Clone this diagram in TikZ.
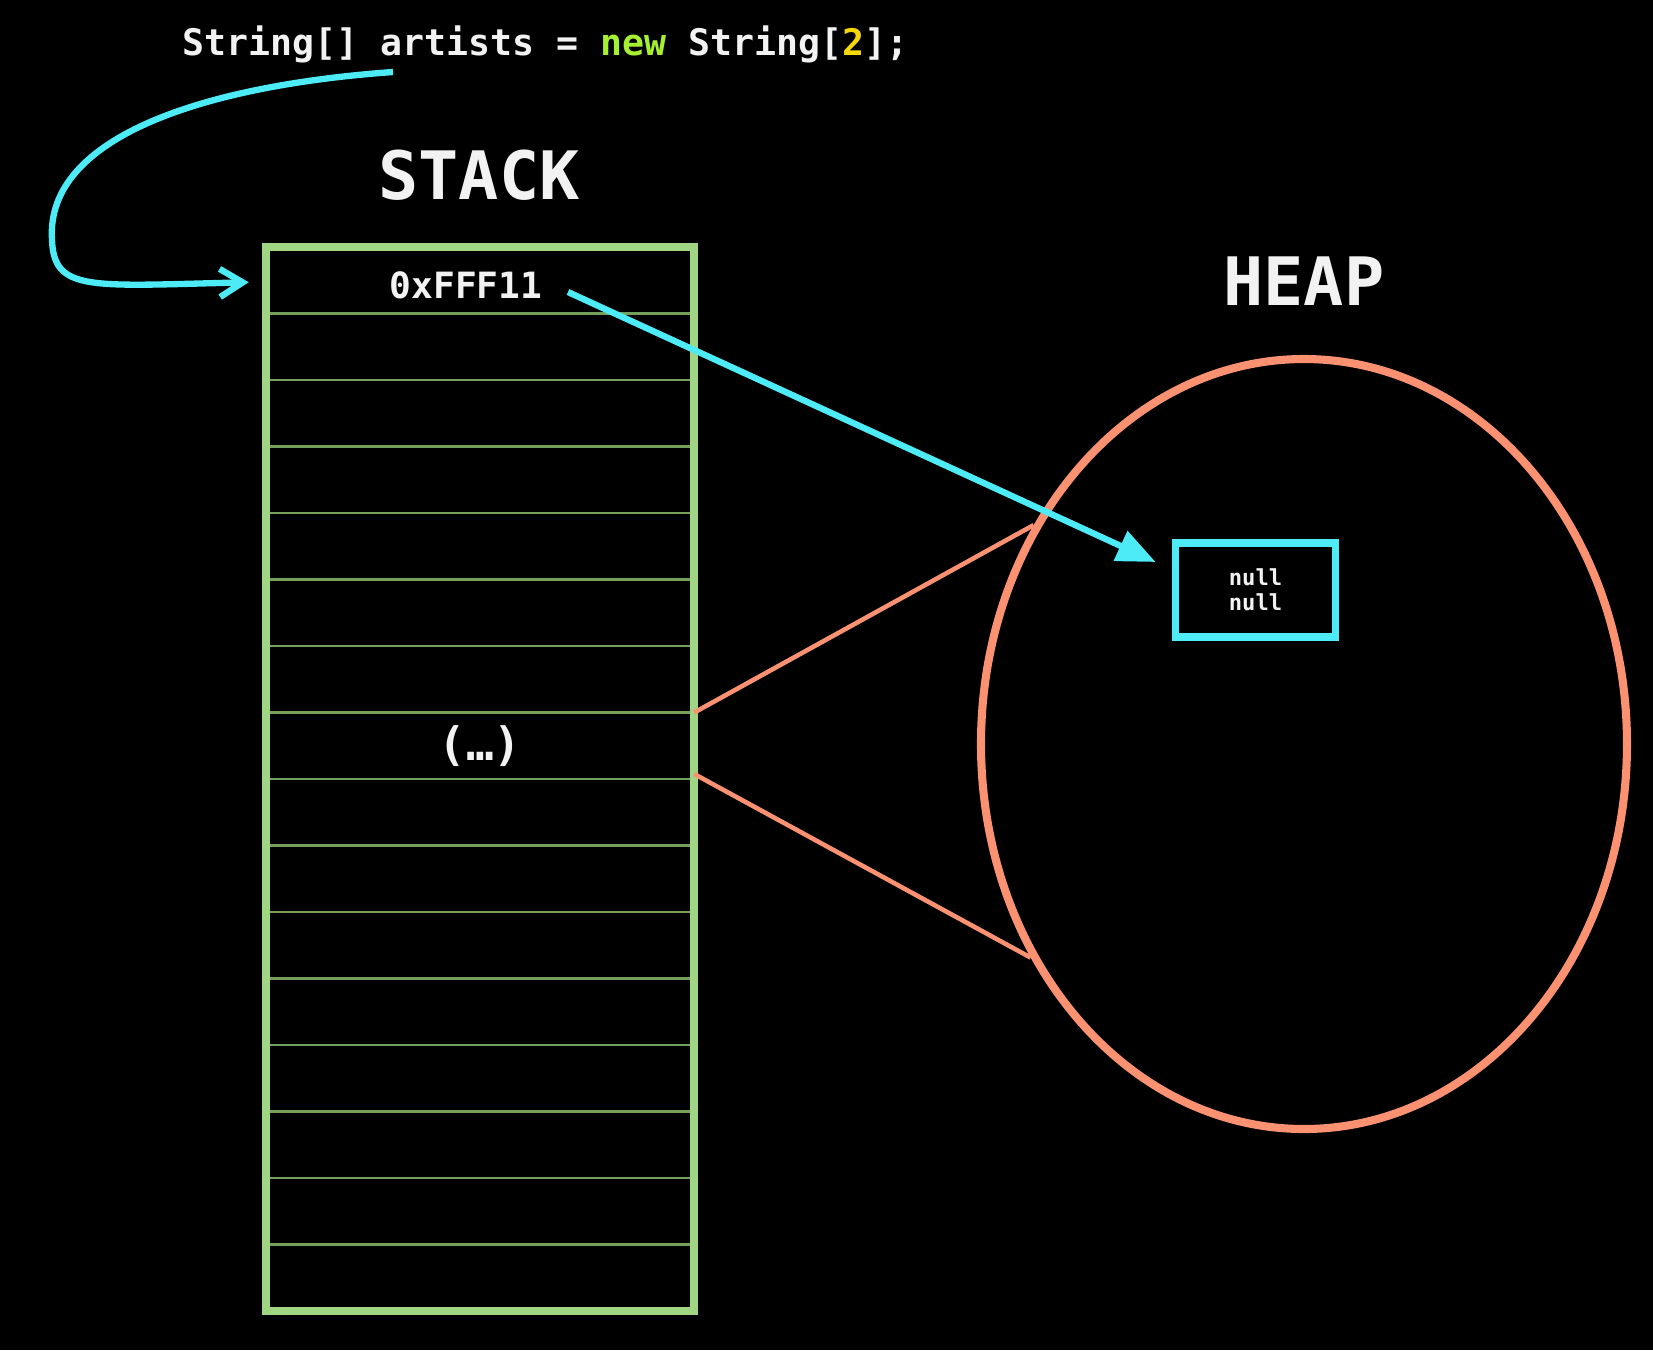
\documentclass[tikz,border=0pt]{standalone}
\usepackage{fontspec}
\setmonofont{DejaVu Sans Mono}
\usetikzlibrary{arrows.meta, positioning, shapes.geometric, calc}

\definecolor{ptrcyan}{RGB}{77,235,245}
\definecolor{stackgreen}{RGB}{160,214,131}
\definecolor{rowgreen}{RGB}{115,160,90}
\definecolor{heapsalmon}{RGB}{250,145,112}
\definecolor{kwgreen}{RGB}{166,240,50}
\definecolor{numyellow}{RGB}{245,215,10}
\definecolor{txtwhite}{RGB}{242,242,242}

\begin{document}
\begin{tikzpicture}[
  txt/.style={text=txtwhite, inner sep=0pt,
    font=\ttfamily\bfseries\fontsize{#1}{#1}\selectfont},
  cell/.style={draw=rowgreen, line width=0.6pt, minimum width=4.285cm,
    minimum height=0.665cm, inner sep=0pt, outer sep=0pt},
  ptr/.style={draw=ptrcyan, line width=1.8pt},
  funnel/.style={draw=heapsalmon, line width=1.3pt},
]
\fill[black] (0,0) rectangle (16.53,-13.5);
\useasboundingbox (0,0) rectangle (16.53,-13.5);

\node[txt=10.4, anchor=base west] (code) at (1.82,-0.55)
  {String[] artists = \textcolor{kwgreen}{new} String[\textcolor{numyellow}{2}];};
\node[txt=19] (stacktitle) at (4.79,-1.75) {STACK};
\node[txt=19] (heaptitle) at (13.04,-2.81) {HEAP};

% stack rows
\foreach \i in {0,...,15}
  \node[cell] (r\i) at (4.8,{-2.8025-0.665*\i}) {};
\draw[stackgreen, line width=2.2pt] (r0.north west) rectangle (r15.south east);

\node[txt=10.3] (addr) at (4.66,-2.855) {0xFFF11};
\node[txt=13.1] (dots) at (r7) {(…)};

% heap
\node[draw=heapsalmon, line width=2.3pt, ellipse, minimum width=6.46cm,
  minimum height=7.70cm, inner sep=0pt] (heap) at (13.04,-7.44) {};
\node[draw=ptrcyan, line width=2.2pt, minimum width=1.6cm, minimum height=0.935cm,
  align=center, text=txtwhite,
  font=\ttfamily\bfseries\fontsize{6.3}{7.1}\selectfont] (nullbox) at (12.555,-5.90)
  {null\\null};

\draw[funnel] (r7.north east) -- (heap.141);
\draw[funnel] ($(r7.south east)+(0,0.05)$) -- (heap.218);

\coordinate (declstart) at (3.93,-0.72);
\draw[ptr, -{Straight Barb[length=6.5pt,width=8pt]}] (declstart)
  .. controls (2.10,-0.85) and (0.45,-1.35) .. (0.52,-2.40)
  .. controls (0.54,-2.92) and (0.90,-2.86) .. ($(r0.west)+(-0.17,-0.02)$);
\draw[ptr, -{Triangle[length=11pt,width=9pt]}] ($(addr.east)+(0.25,-0.065)$)
  -- ($(nullbox.west)+(-0.16,0.28)$);
\end{tikzpicture}
\end{document}
